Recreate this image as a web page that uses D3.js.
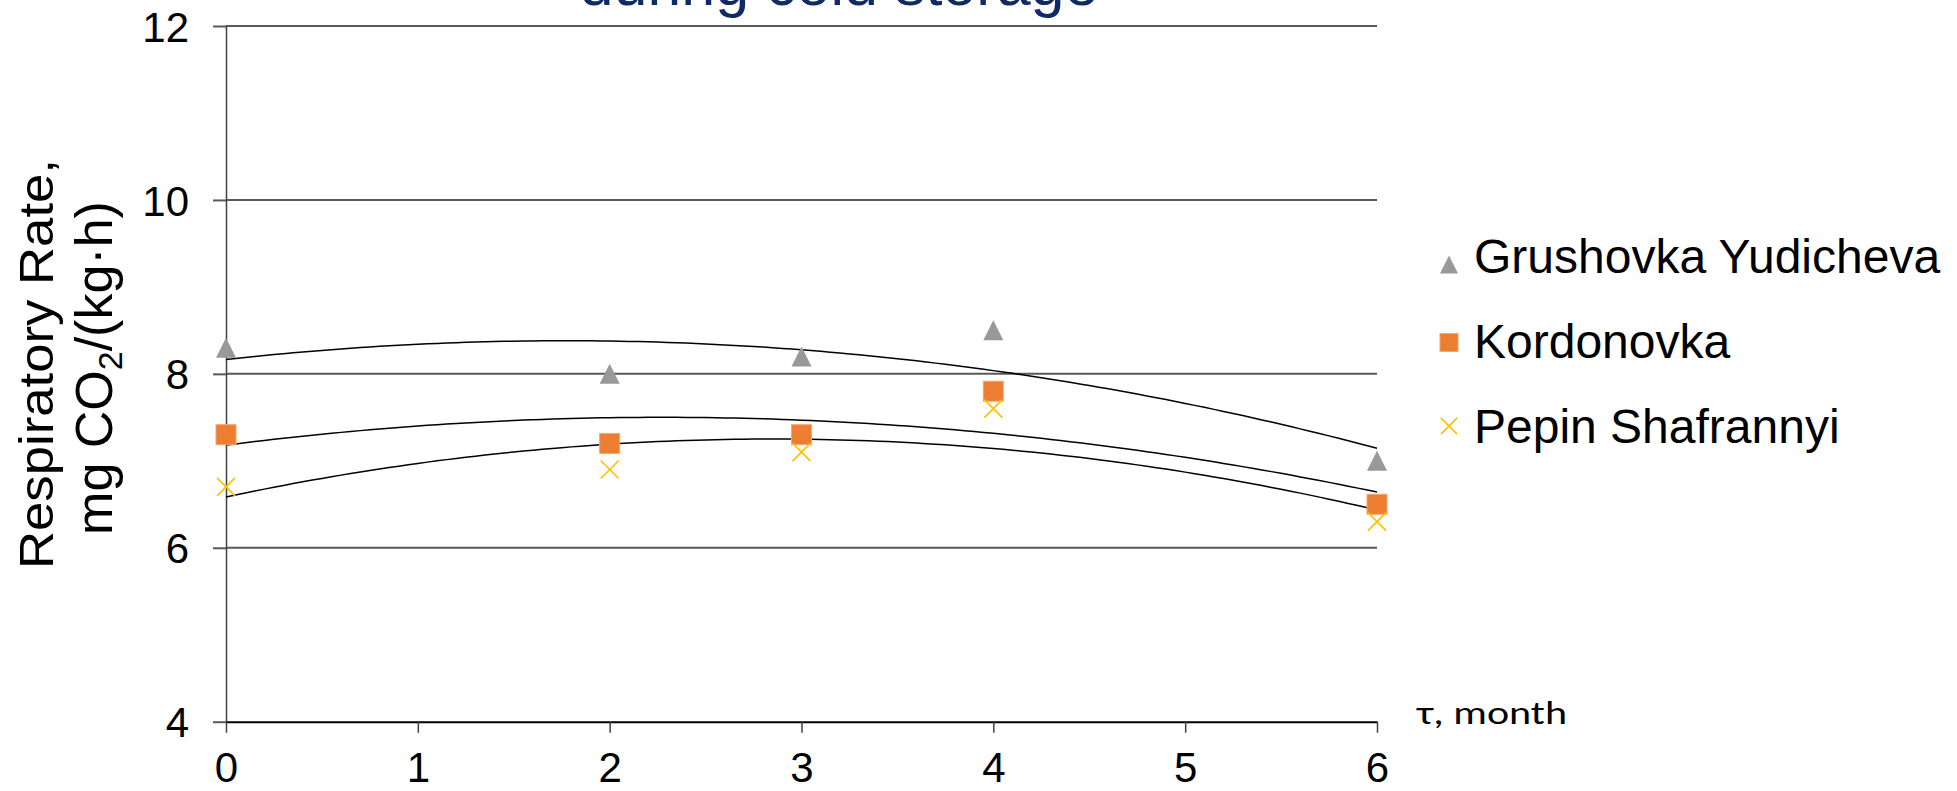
<!DOCTYPE html>
<html>
<head>
<meta charset="utf-8">
<script src="https://cdn.jsdelivr.net/npm/d3@7"></script>
<style>
  html, body { margin: 0; padding: 0; background: #fff; }
  svg { display: block; font-family: "Liberation Sans", Arial, sans-serif; }
</style>
</head>
<body>
<svg id="chart" width="1957" height="791"></svg>
<script>
// Storage time, months
const months = [0, 2, 3, 4, 6];

// Respiration rate, mg CO2/(kg·h), per cultivar
const grushovka = [8.3, 8.0, 8.2, 8.5, 7.0];
const kordonovka = [7.3, 7.2, 7.3, 7.8, 6.5];
const pepin = [6.7, 6.9, 7.1, 7.6, 6.3];

const seriesNames = ["Grushovka Yudicheva", "Kordonovka", "Pepin Shafrannyi"];
const xTicks = [0, 1, 2, 3, 4, 5, 6];
const yTicks = [4, 6, 8, 10, 12];

const series = [
  { name: seriesNames[0], values: grushovka, shape: "triangle", color: "#999999" },
  { name: seriesNames[1], values: kordonovka, shape: "square", color: "#ED7D31" },
  { name: seriesNames[2], values: pepin, shape: "cross", color: "#FFC000" }
];

const svg = d3.select("#chart");

const x = d3.scaleLinear().domain([0, 6]).range([226, 1377]);
const y = d3.scaleLinear().domain([4, 12]).range([721.7, 26]);

// Second-order polynomial least-squares fit (same as a spreadsheet trendline)
function quadFit(xs, ys) {
  const n = xs.length;
  let s1 = 0, s2 = 0, s3 = 0, s4 = 0, t0 = 0, t1 = 0, t2 = 0;
  xs.forEach((xi, i) => {
    const yi = ys[i];
    s1 += xi; s2 += xi * xi; s3 += xi ** 3; s4 += xi ** 4;
    t0 += yi; t1 += xi * yi; t2 += xi * xi * yi;
  });
  const M = [[n, s1, s2, t0], [s1, s2, s3, t1], [s2, s3, s4, t2]];
  for (let c = 0; c < 3; c++) {
    for (let r = c + 1; r < 3; r++) {
      const f = M[r][c] / M[c][c];
      for (let k = c; k < 4; k++) M[r][k] -= f * M[c][k];
    }
  }
  const coef = [0, 0, 0];
  for (let r = 2; r >= 0; r--) {
    let s = M[r][3];
    for (let k = r + 1; k < 3; k++) s -= M[r][k] * coef[k];
    coef[r] = s / M[r][r];
  }
  return t => coef[0] + coef[1] * t + coef[2] * t * t;
}

// Title (second line, partly above the top edge)
svg.append("text")
  .attr("x", 839).attr("y", 5)
  .attr("text-anchor", "middle")
  .attr("font-size", 61)
  .attr("fill", "#102a66")
  .text("during cold storage");

// Horizontal gridlines
svg.append("g").selectAll("line")
  .data(yTicks.filter(v => v !== 4))
  .join("line")
  .attr("x1", x(0)).attr("x2", x(6))
  .attr("y1", d => y(d)).attr("y2", d => y(d))
  .attr("stroke", "#595959").attr("stroke-width", 2);

// Y axis
const yAxis = svg.append("g")
  .attr("transform", `translate(${x(0)},0)`)
  .call(d3.axisLeft(y).tickValues(yTicks).tickFormat(d3.format("d"))
    .tickSize(13).tickPadding(24).tickSizeOuter(0));
yAxis.select(".domain").attr("stroke", "#404040").attr("stroke-width", 1.5);
yAxis.selectAll(".tick line").attr("stroke", "#595959").attr("stroke-width", 2);
yAxis.selectAll(".tick text")
  .attr("font-size", 42).attr("fill", "#000")
  .attr("font-family", "'Liberation Sans', Arial, sans-serif")
  .attr("dy", "0.36em");

// X axis
const xAxis = svg.append("g")
  .attr("transform", `translate(0,${y(4)})`)
  .call(d3.axisBottom(x).tickValues(xTicks).tickFormat(d3.format("d"))
    .tickSize(11).tickPadding(19).tickSizeOuter(0));
xAxis.select(".domain").attr("stroke", "#000").attr("stroke-width", 2);
xAxis.selectAll(".tick line").attr("stroke", "#404040").attr("stroke-width", 1.5);
xAxis.selectAll(".tick text")
  .attr("font-size", 42).attr("fill", "#000")
  .attr("font-family", "'Liberation Sans', Arial, sans-serif");

// X axis label
svg.append("text")
  .attr("x", 1417).attr("y", 724)
  .attr("font-family", "Carlito, Calibri, 'Open Sans', sans-serif")
  .attr("font-size", 33)
  .attr("textLength", 150)
  .attr("lengthAdjust", "spacingAndGlyphs")
  .attr("fill", "#000")
  .text("τ, month");

// Y axis title (two lines)
const yTitle = svg.append("g").attr("transform", "translate(0,364) rotate(-90)");
yTitle.append("text")
  .attr("x", 0).attr("y", 53)
  .attr("text-anchor", "middle")
  .attr("font-size", 49)
  .attr("textLength", 410)
  .attr("lengthAdjust", "spacingAndGlyphs")
  .text("Respiratory Rate,");
const t2 = yTitle.append("text")
  .attr("x", -4).attr("y", 112)
  .attr("text-anchor", "middle")
  .attr("font-size", 52);
t2.append("tspan").text("mg CO");
t2.append("tspan").attr("font-size", 34).attr("dy", 10).text("2");
t2.append("tspan").attr("dy", -10).text("/(kg·h)");

// Trendlines
const line = d3.line().x(d => x(d[0])).y(d => y(d[1]));
const samples = d3.range(0, 6.0001, 0.05);
series.forEach(s => {
  const f = quadFit(months, s.values);
  svg.append("path")
    .attr("d", line(samples.map(t => [t, f(t)])))
    .attr("fill", "none")
    .attr("stroke", "#000")
    .attr("stroke-width", 1.5);
});

// Marker drawing
function drawMarker(g, shape, color, cx, cy, size) {
  const h = size / 2;
  if (shape === "triangle") {
    g.append("path")
      .attr("d", `M${cx},${cy - h}L${cx + h},${cy + h}L${cx - h},${cy + h}Z`)
      .attr("fill", color);
  } else if (shape === "square") {
    g.append("rect")
      .attr("x", cx - h).attr("y", cy - h)
      .attr("width", size).attr("height", size)
      .attr("fill", color)
      .attr("stroke", "#F4A76E").attr("stroke-width", 1);
  } else {
    const k = h * 0.9;
    g.append("path")
      .attr("d", `M${cx - k},${cy - k}L${cx + k},${cy + k}M${cx + k},${cy - k}L${cx - k},${cy + k}`)
      .attr("stroke", color).attr("stroke-width", 1.6).attr("fill", "none");
  }
}

const markers = svg.append("g");
series.forEach(s => {
  months.forEach((m, i) => drawMarker(markers, s.shape, s.color, x(m), y(s.values[i]), 20));
});

// Legend
const legendBaselines = [272.7, 357.7, 442.7];
const legendMarkerY = [264.5, 342.5, 426];
const legend = svg.append("g");
series.forEach((s, i) => {
  drawMarker(legend, s.shape, s.color, 1449, legendMarkerY[i], 18);
  legend.append("text")
    .attr("x", 1474).attr("y", legendBaselines[i])
    .attr("font-size", 48)
    .attr("fill", "#000")
    .text(s.name);
});
</script>
</body>
</html>
